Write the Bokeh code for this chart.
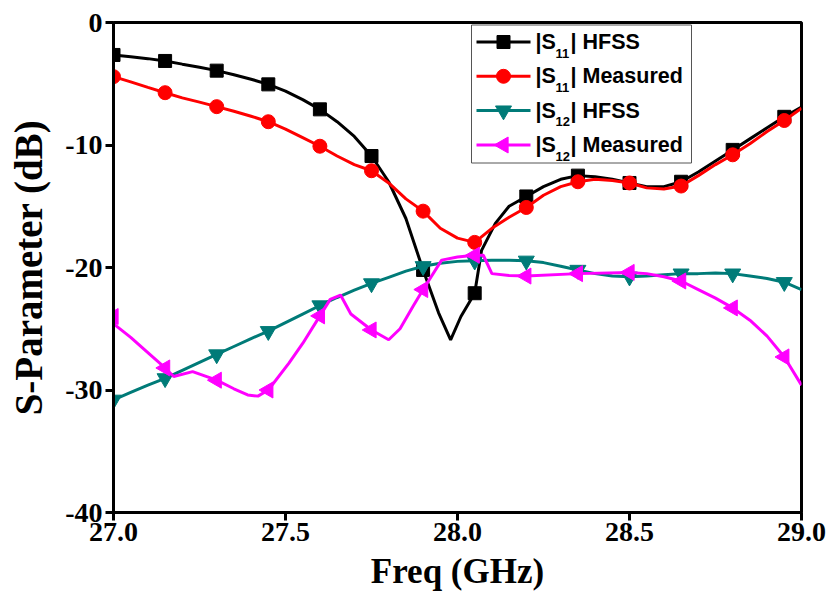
import numpy as np
from bokeh.plotting import figure
from bokeh.models import Range1d, FixedTicker, NumeralTickFormatter
from bokeh.core.properties import value
from bokeh.embed import file_html
from bokeh.resources import INLINE

# ---- data ----
f_s11_hfss = [27.00, 27.05, 27.10, 27.15, 27.20, 27.25, 27.30, 27.35, 27.40, 27.45, 27.50, 27.55,
              27.60, 27.65, 27.70, 27.75, 27.80, 27.85, 27.90, 27.945, 27.98, 28.01, 28.05, 28.07,
              28.11, 28.15, 28.20, 28.25, 28.30, 28.35, 28.40, 28.45, 28.50, 28.55, 28.60, 28.65,
              28.70, 28.75, 28.80, 28.85, 28.90, 28.95, 29.00]
s11_hfss = [-2.65, -2.8, -2.95, -3.14, -3.4, -3.65, -3.93, -4.27, -4.63, -5.05, -5.6, -6.3,
            -7.09, -8.1, -9.3, -10.9, -13.0, -16.0, -20.2, -23.7, -25.9, -24.0, -22.1, -18.6,
            -16.4, -15.0, -14.2, -13.4, -12.8, -12.5, -12.6, -12.8, -13.1, -13.4, -13.4, -13.0,
            -12.2, -11.3, -10.4, -9.5, -8.6, -7.7, -6.9]

f_s11_meas = [27.00, 27.05, 27.10, 27.15, 27.20, 27.25, 27.30, 27.35, 27.40, 27.45, 27.50, 27.55,
              27.60, 27.65, 27.70, 27.75, 27.80, 27.85, 27.90, 27.95, 28.00, 28.05, 28.10, 28.15,
              28.20, 28.25, 28.30, 28.35, 28.40, 28.45, 28.50, 28.55, 28.60, 28.65, 28.70, 28.75,
              28.80, 28.85, 28.90, 28.95, 29.00]
s11_meas = [-4.42, -4.85, -5.3, -5.73, -6.15, -6.5, -6.87, -7.25, -7.65, -8.1, -8.7, -9.4,
            -10.1, -10.9, -11.6, -12.1, -13.1, -14.4, -15.4, -16.8, -17.6, -17.95, -16.8, -15.9,
            -15.1, -14.1, -13.4, -13.0, -12.8, -12.9, -13.1, -13.5, -13.6, -13.35, -12.5, -11.6,
            -10.8, -9.9, -8.9, -8.0, -7.0]

f_s12_hfss = [27.00, 27.05, 27.10, 27.15, 27.20, 27.25, 27.30, 27.35, 27.40, 27.45, 27.50, 27.55,
              27.60, 27.65, 27.70, 27.75, 27.80, 27.85, 27.90, 27.95, 28.00, 28.05, 28.10, 28.15,
              28.20, 28.25, 28.30, 28.35, 28.40, 28.45, 28.50, 28.55, 28.60, 28.65, 28.70, 28.75,
              28.80, 28.85, 28.90, 28.95, 29.00]
s12_hfss = [-30.8, -30.2, -29.6, -29.05, -28.4, -27.75, -27.1, -26.45, -25.8, -25.2, -24.5, -23.8,
            -23.1, -22.45, -21.85, -21.3, -20.8, -20.3, -19.9, -19.65, -19.5, -19.45, -19.4, -19.4,
            -19.45, -19.6, -19.9, -20.2, -20.5, -20.7, -20.75, -20.7, -20.6, -20.5, -20.5, -20.45,
            -20.5, -20.7, -20.9, -21.2, -21.8]

f_s12_meas = [27.00, 27.005, 27.05, 27.09, 27.15, 27.175, 27.23, 27.30, 27.35, 27.39, 27.42, 27.45,
              27.51, 27.55, 27.60, 27.63, 27.66, 27.69, 27.75, 27.80, 27.833, 27.87, 27.90, 27.954,
              28.00, 28.05, 28.075, 28.10, 28.15, 28.20, 28.35, 28.50, 28.55, 28.60, 28.65, 28.70,
              28.75, 28.80, 28.85, 28.90, 28.95, 29.00]
s12_meas = [-24.0, -24.7, -25.7, -26.7, -28.2, -28.9, -28.5, -29.2, -29.9, -30.4, -30.5, -30.0,
            -27.8, -26.2, -23.95, -22.6, -22.25, -23.8, -25.1, -25.9, -25.0, -23.2, -21.8, -19.4,
            -19.15, -19.0, -19.0, -20.5, -20.65, -20.7, -20.5, -20.4, -20.5, -20.75, -21.1, -21.8,
            -22.5, -23.3, -24.3, -25.6, -27.3, -29.6]

# legend labels: main text, subscript, rest
legend_parts = [("|S", "11", "| HFSS"), ("|S", "11", "| Measured"),
                ("|S", "12", "| HFSS"), ("|S", "12", "| Measured")]
x_ticks = [27.0, 27.5, 28.0, 28.5, 29.0]
y_ticks = [0, -10, -20, -30, -40]

marker_start, marker_step = 27.0, 0.15


def marker_subset(f, v):
    fx, vy = [], []
    for a, b in zip(f, v):
        k = (a - marker_start) / marker_step
        if abs(k - round(k)) < 1e-6:
            fx.append(a)
            vy.append(b)
    return fx, vy


FRAME_W, FRAME_H = 688, 490
p = figure(width=827, height=600, output_backend="svg", toolbar_location=None,
           x_range=Range1d(27.0, 29.0), y_range=Range1d(-40, 0),
           min_border_left=113, min_border_top=22, min_border_right=26, min_border_bottom=88)
# pixel-space ranges for the hand-drawn legend
p.extra_x_ranges = {"lx": Range1d(0, FRAME_W)}
p.extra_y_ranges = {"ly": Range1d(0, FRAME_H)}

p.background_fill_color = "white"
p.border_fill_color = "white"
p.grid.visible = False
p.outline_line_color = "black"
p.outline_line_width = 3

serif = "Liberation Serif"
for ax in (p.xaxis[0], p.yaxis[0]):
    ax.axis_line_width = 3
    ax.axis_line_color = "black"
    ax.major_tick_line_width = 3
    ax.major_tick_line_color = "black"
    ax.major_tick_out = 8
    ax.major_tick_in = 0
    ax.minor_tick_line_color = None
    ax.major_label_text_font = serif
    ax.major_label_text_font_style = "bold"
    ax.major_label_text_font_size = "28px"
    ax.major_label_text_color = "black"
    ax.axis_label_text_font = serif
    ax.axis_label_text_font_style = "bold"
    ax.axis_label_text_color = "black"

p.xaxis.ticker = FixedTicker(ticks=x_ticks)
p.xaxis.formatter = NumeralTickFormatter(format="0.0")
p.yaxis.ticker = FixedTicker(ticks=y_ticks)
p.yaxis.formatter = NumeralTickFormatter(format="0")
p.xaxis.axis_label = "Freq (GHz)"
p.yaxis.axis_label = "S-Parameter (dB)"
p.xaxis.axis_label_text_font_size = "35px"
p.yaxis.axis_label_text_font_size = "39px"
p.xaxis.major_label_standoff = 2
p.yaxis.major_label_standoff = 3
p.xaxis.axis_label_standoff = 8
p.yaxis.axis_label_standoff = 12

series = [
    (f_s11_hfss, s11_hfss, "#000000", "square", 13, 0.0),
    (f_s11_meas, s11_meas, "#ff0000", "circle", 14, 0.0),
    (f_s12_hfss, s12_hfss, "#007b78", "inverted_triangle", 16, 0.0),
    (f_s12_meas, s12_meas, "#ff00ff", "triangle", 16, np.pi / 2),
]

for (f, v, col, mk, sz, ang) in series:
    p.line(f, v, line_color=col, line_width=3)
    mx, my = marker_subset(f, v)
    p.scatter(mx, my, marker=mk, size=sz, angle=ang, fill_color=col, line_color=col)

# ---- hand-drawn legend (pixel coordinates inside the frame) ----
box_l, box_r, box_t, box_b = 358, 578, FRAME_H - 2.5, FRAME_H - 140.5
p.quad(left=[box_l], right=[box_r], top=[box_t], bottom=[box_b],
       fill_color="white", line_color="#555555", line_width=1,
       x_range_name="lx", y_range_name="ly")
row_y = [FRAME_H - 19.5, FRAME_H - 53.8, FRAME_H - 88.1, FRAME_H - 122.5]
g_x0, g_x1, g_xc = 363, 417, 390
t_x0, s_x0, r_x0 = 422, 442, 457
for (f, v, col, mk, sz, ang), (a, sub, rest), ry in zip(series, legend_parts, row_y):
    p.line([g_x0, g_x1], [ry, ry], line_color=col, line_width=3,
           x_range_name="lx", y_range_name="ly")
    p.scatter([g_xc], [ry], marker=mk, size=sz, angle=ang, fill_color=col, line_color=col,
              x_range_name="lx", y_range_name="ly")
    p.text([t_x0], [ry], text=[a], text_font=value("Liberation Sans"), text_font_style="bold",
           text_font_size="21.5px", text_baseline="middle", text_align="left", text_color="black",
           x_range_name="lx", y_range_name="ly")
    p.text([s_x0], [ry - 11], text=[sub], text_font=value("Liberation Sans"), text_font_style="bold",
           text_font_size="13px", text_baseline="middle", text_align="left", text_color="black",
           x_range_name="lx", y_range_name="ly")
    p.text([r_x0], [ry], text=[rest], text_font=value("Liberation Sans"), text_font_style="bold",
           text_font_size="21.5px", text_baseline="middle", text_align="left", text_color="black",
           x_range_name="lx", y_range_name="ly")

open("out.html", "w").write(file_html(p, INLINE))
